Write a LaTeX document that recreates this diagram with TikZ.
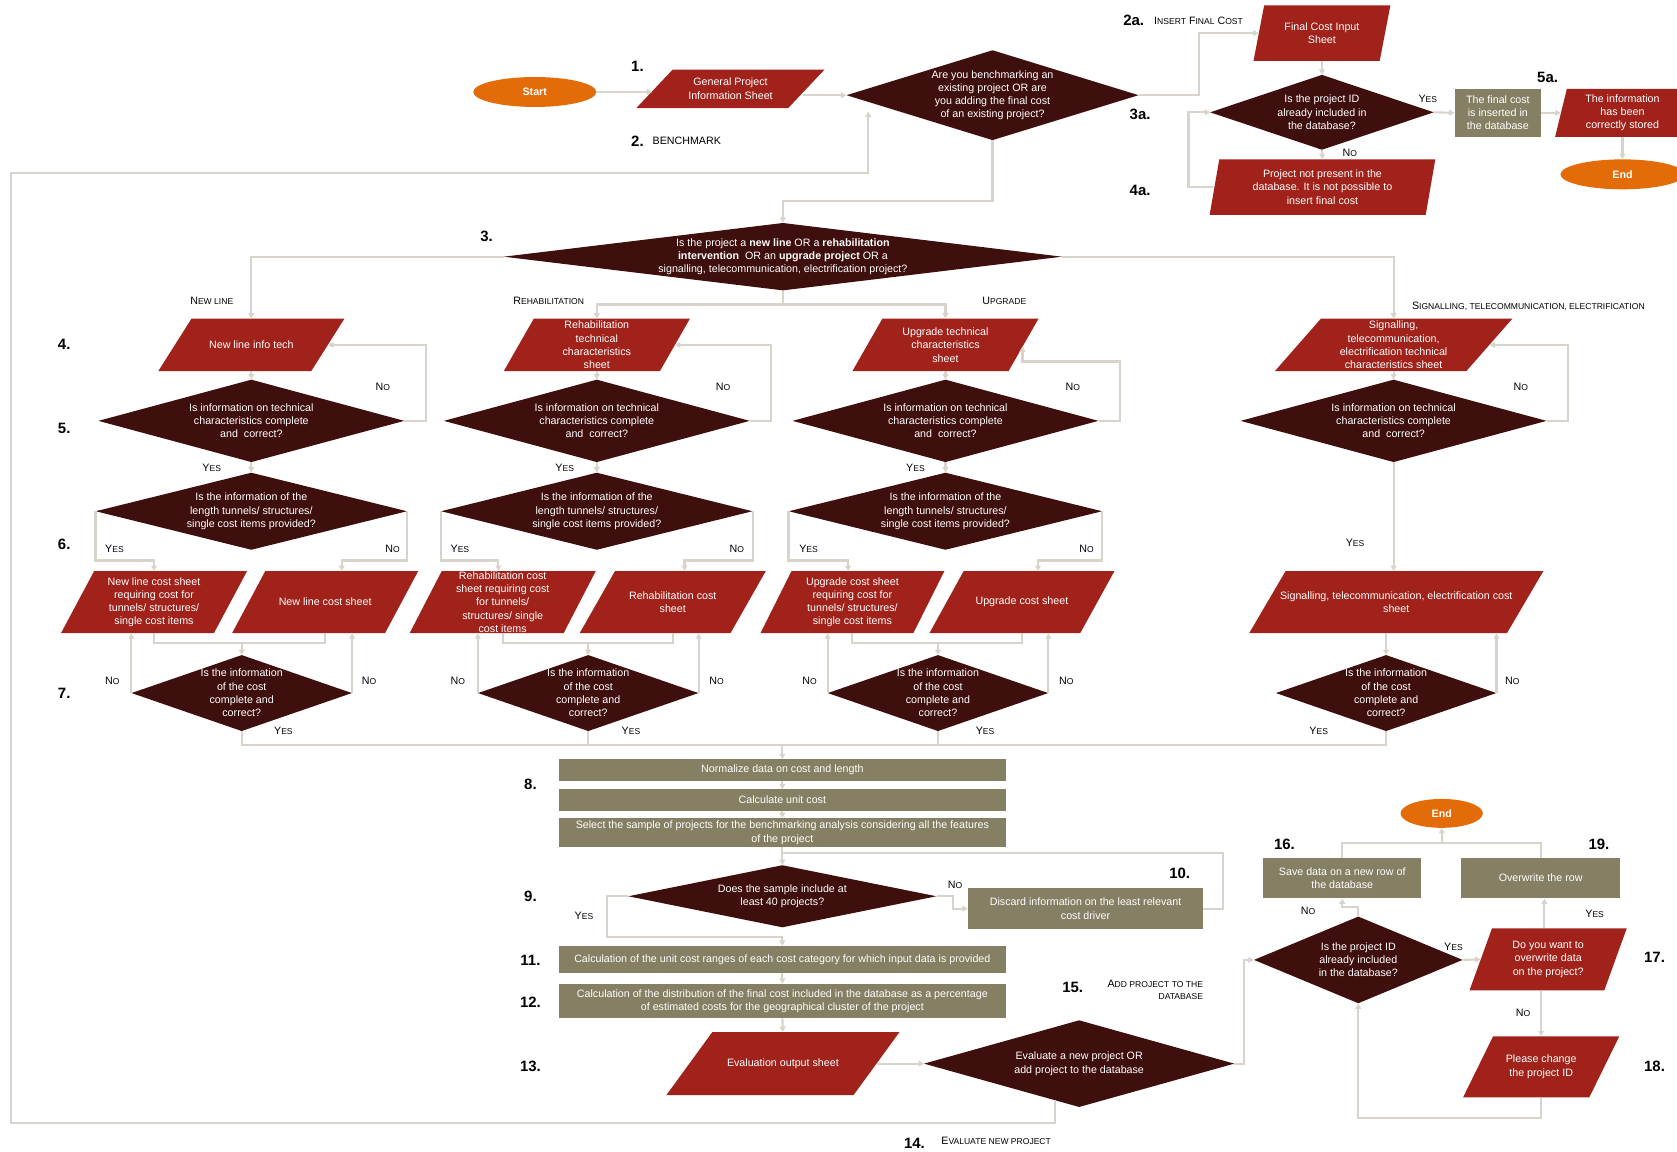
\documentclass[tikz,border=0pt]{standalone}
\usepackage{fontspec}
\setmainfont{Liberation Sans}
\usetikzlibrary{shapes.geometric,arrows.meta,calc}
\definecolor{cred}{RGB}{160,34,26}
\definecolor{cdark}{RGB}{63,15,14}
\definecolor{cgrey}{RGB}{133,127,99}
\definecolor{corange}{RGB}{227,108,9}
\definecolor{cline}{RGB}{216,212,203}
\newcommand\mysc[2]{#1{\fontsize{8}{10}\selectfont #2}}
% parallelogram: name, left, right, top, bottom, slant, text
\newcommand\parnode[7]{%
  \pgfmathsetmacro\mypw{#3-#2}\pgfmathsetmacro\myph{#5-#4}%
  \pgfmathsetmacro\mypcx{(#2+#3)/2}\pgfmathsetmacro\mypcy{(#4+#5)/2}%
  \fill[parafill] ({#2+#6},#4) -- (#3,#4) -- ({#3-#6},#5) -- (#2,#5) -- cycle;
  \node[shapetext,minimum width=\mypw pt,minimum height=\myph pt] (#1) at (\mypcx,\mypcy) {#7};}
% diamond: name, cx, cy, width, height, text
\newcommand\dianode[6]{%
  \fill[diafill] ({#2-#4/2},#3) -- (#2,{#3-#5/2}) -- ({#2+#4/2},#3) -- (#2,{#3+#5/2}) -- cycle;
  \node[shapetext,minimum width=#4pt,minimum height=#5pt] (#1) at (#2,#3) {#6};}
\begin{document}
\begin{tikzpicture}[x=1pt,y=-1pt,
  conn/.style={draw=cline,line width=2pt},
  arr/.style={conn,-{Triangle[length=5pt,width=5.5pt]}},
  parafill/.style={fill=cred},
  diafill/.style={fill=cdark},
  shapetext/.style={text=white,align=center,inner sep=0pt,font=\fontsize{10}{12.4}\selectfont},
  greybox/.style={shapetext,fill=cgrey},
  term/.style={ellipse,fill=corange,text=white,inner sep=0pt,font=\fontsize{10}{12}\selectfont\bfseries},
  num/.style={font=\fontsize{14}{16}\selectfont\bfseries,inner sep=0pt},
  lab/.style={font=\fontsize{10}{12}\selectfont,inner sep=0pt}]
\useasboundingbox (0,0) rectangle (1568,1077);

% ---------- top ----------
\node[term,minimum width=115pt,minimum height=28pt] (start) at (500,86) {Start};
\parnode{gpis}{595}{771}{65}{101}{34}{General Project\\Information Sheet}
\dianode{d1}{928}{89}{273}{84}{Are you benchmarking an\\existing project OR are\\you adding the final cost\\of an existing project?}
\parnode{fcis}{1172}{1300}{5}{57}{10}{Final Cost Input\\Sheet}
\dianode{d3a}{1236}{105}{209}{70}{Is the project ID\\already included in\\the database?}
\node[greybox,minimum width=81pt,minimum height=45pt] (box5) at (1400.5,105.5) {The final cost\\is inserted in\\the database};
\parnode{p5a}{1454}{1580}{83}{128}{11}{The information\\has been\\correctly stored}
\node[term,minimum width=116pt,minimum height=28pt] (end1) at (1517,163) {End};
\parnode{p4a}{1131}{1342}{149}{201}{9}{Project not present in the\\database. It is not possible to\\insert final cost}

\dianode{d3}{732}{240}{522}{63}{Is the project a \textbf{new line} OR a \textbf{rehabilitation}\\\textbf{intervention}~ OR an \textbf{upgrade project} OR a\\signalling, telecommunication, electrification project?}

% ---------- row 4 ----------
\parnode{p4nl}{148}{322}{298}{347}{31}{New line info tech}
\parnode{p4rh}{471}{645}{298}{347}{28}{Rehabilitation\\technical\\characteristics\\sheet}
\parnode{p4up}{797}{971}{298}{347}{28}{Upgrade technical\\characteristics\\sheet}
\parnode{p4sg}{1192}{1414}{298}{347}{43}{Signalling,\\telecommunication,\\electrification technical\\characteristics sheet}

% ---------- row 5 ----------
\dianode{d5nl}{235}{393.5}{286}{77}{Is information on technical\\characteristics complete\\and~ correct?}
\dianode{d5rh}{558}{393.5}{286}{77}{Is information on technical\\characteristics complete\\and~ correct?}
\dianode{d5up}{884}{393.5}{286}{77}{Is information on technical\\characteristics complete\\and~ correct?}
\dianode{d5sg}{1303}{393.5}{286}{77}{Is information on technical\\characteristics complete\\and~ correct?}

% ---------- row 6 ----------
\dianode{d6nl}{235}{478}{291}{72}{Is the information of the\\length tunnels/ structures/\\single cost items provided?}
\dianode{d6rh}{558}{478}{291}{72}{Is the information of the\\length tunnels/ structures/\\single cost items provided?}
\dianode{d6up}{884}{478}{293}{72}{Is the information of the\\length tunnels/ structures/\\single cost items provided?}

\parnode{p6nla}{57}{231}{534}{592}{31}{New line cost sheet\\requiring cost for\\tunnels/ structures/\\single cost items}
\parnode{p6nlb}{217}{391}{534}{592}{31}{New line cost sheet}
\parnode{p6rha}{383}{557}{534}{592}{30}{Rehabilitation cost\\sheet requiring cost\\for tunnels/\\structures/ single\\cost items}
\parnode{p6rhb}{542}{716}{534}{592}{33}{Rehabilitation cost\\sheet}
\parnode{p6upa}{711}{883}{534}{592}{29}{Upgrade cost sheet\\requiring cost for\\tunnels/ structures/\\single cost items}
\parnode{p6upb}{869}{1042}{534}{592}{32}{Upgrade cost sheet}
\parnode{p6sg}{1168}{1443}{534}{592}{34}{Signalling, telecommunication, electrification cost\\sheet}

% ---------- row 7 ----------
\dianode{d7nl}{226}{648}{206}{71}{Is the information\\of the cost\\complete and\\correct?}
\dianode{d7rh}{550}{648}{206}{71}{Is the information\\of the cost\\complete and\\correct?}
\dianode{d7up}{877}{648}{206}{71}{Is the information\\of the cost\\complete and\\correct?}
\dianode{d7sg}{1296}{648}{206}{71}{Is the information\\of the cost\\complete and\\correct?}

% ---------- middle ----------
\node[greybox,minimum width=418pt,minimum height=20pt] (b8a) at (731.5,720) {Normalize data on cost and length};
\node[greybox,minimum width=418pt,minimum height=20pt] (b8b) at (731.5,748) {Calculate unit cost};
\node[greybox,minimum width=418pt,minimum height=27pt] (b8c) at (731.5,778.5) {Select the sample of projects for the benchmarking analysis considering all the features\\of the project};
\dianode{d9}{731.5}{838}{288}{58}{Does the sample include at\\least 40 projects?}
\node[greybox,minimum width=220pt,minimum height=39pt] (b10) at (1015,849.5) {Discard information on the least relevant\\cost driver};
\node[greybox,minimum width=418pt,minimum height=25pt] (b11) at (731.5,897) {Calculation of the unit cost ranges of each cost category for which input data is provided};
\node[greybox,minimum width=418pt,minimum height=32pt] (b12) at (731.5,936) {Calculation of the distribution of the final cost included in the database as a percentage\\of estimated costs for the geographical cluster of the project};
\parnode{p13}{623}{841}{965}{1024}{43}{Evaluation output sheet}
\dianode{d14}{1009}{994.5}{290}{81}{Evaluate a new project OR\\add project to the database}

% ---------- bottom right ----------
\dianode{d15}{1270}{897.5}{195}{81}{Is the project ID\\already included\\in the database?}
\node[greybox,minimum width=148pt,minimum height=38pt] (b16) at (1255,821) {Save data on a new row of\\the database};
\node[greybox,minimum width=149pt,minimum height=38pt] (b19) at (1440.5,821) {Overwrite the row};
\parnode{p17}{1374}{1521}{868}{926}{21}{Do you want to\\overwrite data\\on the project?}
\parnode{p18}{1368}{1514}{969}{1026}{28}{Please change\\the project ID}
\node[term,minimum width=77pt,minimum height=27pt] (end2) at (1348,760.5) {End};

% ---------- connectors: top ----------
\coordinate (gpisL) at ([xshift=15pt]gpis.west);
\coordinate (gpisR) at ([xshift=-20pt]gpis.east);
\draw[arr] (start.east) -- (start.east -| gpisL);
\draw[arr] (gpisR |- d1.west) -- (d1.west);
\draw[arr] (d1.south) -- ++(0,57) -| (d3.north);
\draw[arr] (d1.east) -- ++(56,0) |- ([xshift=5pt]fcis.west);
\draw[arr] (fcis.south) -- (d3a.north);
\draw[arr] (d3a.east) -- (box5.west);
\draw[arr] (box5.east) -- ([xshift=5.5pt]p5a.west);
\draw[arr] (p5a.south) -- (end1.north);
\draw[arr] (d3a.south) -- (p4a.north);
\draw[arr] ([xshift=4.5pt]p4a.west) -- ++(-24,0) |- (d3a.west);
\coordinate (d14b) at ($(d14.west)!0.845!(d14.south)$);
\coordinate (d1b) at ($(d1.west)!0.15!(d1.south)$);
\coordinate (loopBL) at (10,1050);
\coordinate (loopTL) at (10,162);
\draw[arr,shorten >=9pt] (d14b) |- (loopBL) -- (loopTL) -| (d1b);

% ---------- connectors: branches ----------
\draw[arr] (d3.west) -| (p4nl.north);
\draw[arr] (d3.east) -| (p4sg.north);
\draw[conn] (d3.south) -- ++(0,13) coordinate (d3s);
\draw[arr] (d3s) -| (p4rh.north);
\draw[arr] (d3s) -| (p4up.north);

\foreach \k in {nl,rh,up,sg} {
  \draw[arr] (p4\k.south) -- (d5\k.north);
}
\foreach \k in {nl,rh,up} {
  \draw[arr] (d5\k.south) -- (d6\k.north);
}
\draw[arr] (d5nl.east) -- ++(20,0) |- ([xshift=-15.5pt]p4nl.east);
\draw[arr] (d5rh.east) -- ++(20,0) |- ([xshift=-14pt]p4rh.east);
\coordinate (upE) at (956,324);
\coordinate (upEb) at (956,338);
\draw[arr] (d5up.east) -- ++(20,0) |- (upEb) -- (upE);
\draw[arr] (d5sg.east) -- ++(20,0) |- ([xshift=-21.5pt]p4sg.east);
\draw[arr] (d5sg.south) -- (d5sg.south |- p6sg.north);

\draw[arr] (d6nl.west) -- ++(0,46) -| (p6nla.north);
\draw[arr] (d6nl.east) -- ++(0,46) -| ([xshift=15.5pt]p6nlb.north);
\draw[arr] (d6rh.west) -- ++(0,46) -| ([xshift=-4pt]p6rha.north);
\draw[arr] (d6rh.east) -- ++(0,46) -| ([xshift=11pt]p6rhb.north);
\draw[arr] (d6up.west) -- ++(0,46) -| ([xshift=-4pt]p6upa.north);
\draw[arr] (d6up.east) -- ++(0,46) -| ([xshift=15pt]p6upb.north);

\draw[conn] (p6nla.south) -- ++(0,9) -| (p6nlb.south);
\draw[conn] (p6rha.south) -- ++(0,9) -| (p6rhb.south);
\draw[conn] (p6upa.south) -- ++(0,9) -| (p6upb.south);
\foreach \k in {nl,rh,up} {
  \draw[arr] ([yshift=11pt]d7\k.north) -- (d7\k.north);
}
\draw[arr] (d7sg.north |- p6sg.south) -- (d7sg.north);

\draw[arr] (d7nl.west) -- (d7nl.west |- p6nla.south);
\draw[arr] (d7nl.east) -- (d7nl.east |- p6nlb.south);
\draw[arr] (d7rh.west) -- (d7rh.west |- p6rha.south);
\draw[arr] (d7rh.east) -- (d7rh.east |- p6rhb.south);
\draw[arr] (d7up.west) -- (d7up.west |- p6upa.south);
\draw[arr] (d7up.east) -- (d7up.east |- p6upb.south);
\draw[arr] (d7sg.east) -- (d7sg.east |- p6sg.south);

\draw[conn] (d7nl.south) -- ++(0,13) -| (d7sg.south);
\draw[conn] (d7rh.south) -- ++(0,13);
\draw[conn] (d7up.south) -- ++(0,13);
\draw[arr] ([yshift=13pt]b8a.north) -- (b8a.north);

% ---------- connectors: middle ----------
\draw[arr] (b8a.south) -- (b8b.north);
\draw[arr] (b8b.south) -- (b8c.north);
\draw[arr] (b8c.south) -- (d9.north);
\draw[conn] (b10.east) -- ++(18,0) |- ([yshift=11pt]d9.north);
\draw[arr] (d9.east) -- ++(15,0) |- (b10.west);
\draw[arr] (d9.west) -- ++(-20,0) |- ([yshift=8pt]b11.north) -- (b11.north);
\draw[arr] (b11.south) -- (b12.north);
\draw[arr] (b12.south) -- (p13.north);
\draw[arr] ([xshift=-21.5pt]p13.east) -- (d14.west);
\draw[arr] (d14.east) -- ++(9,0) |- (d15.west);

% ---------- connectors: bottom right ----------
\draw[arr] (d15.north) -- ++(0,-9) -| (b16.south);
\draw[arr] (d15.east) -- ([xshift=10.5pt]p17.west);
\coordinate (p17t) at ([xshift=-3.5pt]p17.north);
\draw[arr] (p17t) -- (p17t |- b19.south);
\draw[arr] (p18.north |- p17.south) -- (p18.north);
\draw[arr] (p18.south) -- ++(0,19) -| (d15.south);
\draw[conn] (b16.north) -- ++(0,-14) -| (b19.north);
\draw[arr] ([yshift=-14pt]end2.south) -- (end2.south);

% ---------- labels ----------
\node[num] (n1) at (596,62) {1.};
\node[num] (n2) at (596,132) {2.};
\node[lab,anchor=west] (t2) at (610,132) {BENCHMARK};
\node[num] (n3) at (455,221) {3.};
\node[num] (n4) at (60,322) {4.};
\node[num] (n5) at (60,401) {5.};
\node[num] (n6) at (60,509) {6.};
\node[num] (n7) at (60,648) {7.};
\node[num] (n8) at (496,733) {8.};
\node[num] (n9) at (496,838) {9.};
\node[num] (n10) at (1103,817) {10.};
\node[num] (n11) at (496,898) {11.};
\node[num] (n12) at (496,937) {12.};
\node[num] (n13) at (496,997) {13.};
\node[num] (n14) at (855,1069) {14.};
\node[lab,anchor=west] (t14) at (880,1067) {\mysc{E}{VALUATE NEW PROJECT}};
\node[num] (n15) at (1003,923) {15.};
\node[lab,anchor=east,align=right] (t15) at (1125,925.5) {\mysc{A}{DD PROJECT TO THE}\\\mysc{}{DATABASE}};
\node[num] (n16) at (1201,789) {16.};
\node[num] (n17) at (1547,895) {17.};
\node[num] (n18) at (1547,997) {18.};
\node[num] (n19) at (1495,789) {19.};
\node[num] (n2a) at (1060,19) {2a.};
\node[lab,anchor=west] (t2a) at (1079,19) {\mysc{I}{NSERT} \mysc{F}{INAL} \mysc{C}{OST}};
\node[num] (n3a) at (1066,107) {3a.};
\node[num] (n4a) at (1066,178) {4a.};
\node[num] (n5a) at (1447,72) {5a.};

\node[lab] (bnl) at (198,281) {\mysc{N}{EW LINE}};
\node[lab] (brh) at (513,281) {\mysc{R}{EHABILITATION}};
\node[lab] (bup) at (939,281) {\mysc{U}{PGRADE}};
\node[lab] (bsg) at (1429,286) {\mysc{S}{IGNALLING, TELECOMMUNICATION, ELECTRIFICATION}};

\foreach \px/\py [count=\i] in {358/362,676/362,1003/362,1422/362,367/513,689/513,1016/513,105/637,345/637,428/637,670/637,757/637,997/637,1414/637,893/827,1262/143,1223/852,1424/947}
  \node[lab] (no\i) at (\px,\py) {\mysc{N}{O}};
\foreach \px/\py [count=\i] in {198/437,528/437,856/437,107/513,430/513,756/513,1267/508,265/683,590/683,921/683,1233/683,546/856,1335/92,1359/885,1491/854}
  \node[lab] (yes\i) at (\px,\py) {\mysc{Y}{ES}};
\end{tikzpicture}
\end{document}
